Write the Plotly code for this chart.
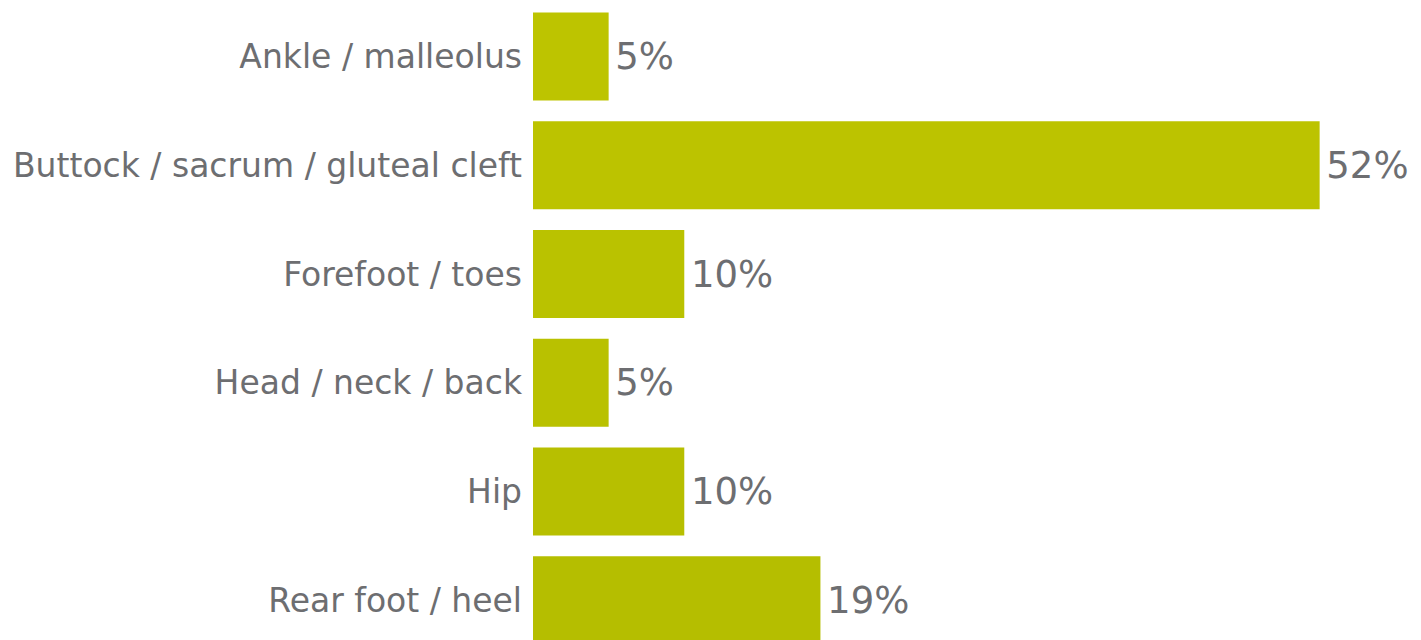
import plotly.graph_objects as go

# Share of pressure injuries by anatomical location (%)
locations = [
    "Ankle / malleolus",
    "Buttock / sacrum / gluteal cleft",
    "Forefoot / toes",
    "Head / neck / back",
    "Hip",
    "Rear foot / heel",
]
shares = [5, 52, 10, 5, 10, 19]
value_labels = ["5%", "52%", "10%", "5%", "10%", "19%"]
bar_colors = ["#BDC400", "#BCC300", "#BAC200", "#B9C100", "#B7BF00", "#B5BE00"]

label_gray = "#6D6E71"

fig = go.Figure(
    go.Bar(
        x=shares,
        y=locations,
        orientation="h",
        marker=dict(color=bar_colors, line=dict(width=0)),
        # hair space keeps a small gap between bar end and its value
        text=["\u200a" + v for v in value_labels],
        textposition="outside",
        textfont=dict(family="DejaVu Sans", size=37, color=label_gray),
        cliponaxis=False,
        hoverinfo="skip",
    )
)

fig.update_layout(
    width=1421,
    height=640,
    margin=dict(l=533, r=0, t=0, b=0),
    paper_bgcolor="white",
    plot_bgcolor="white",
    bargap=0.19,
    showlegend=False,
    font=dict(family="DejaVu Sans", color=label_gray),
)

fig.update_xaxes(
    range=[0, 58.7],
    visible=False,
    showgrid=False,
    zeroline=False,
)

fig.update_yaxes(
    type="category",
    categoryorder="array",
    categoryarray=locations,
    range=[5.365, -0.52],
    showgrid=False,
    zeroline=False,
    showline=False,
    ticks="",
    ticklabelstandoff=10,
    tickfont=dict(family="DejaVu Sans", size=33, color=label_gray),
)

fig.write_html("out.html")
